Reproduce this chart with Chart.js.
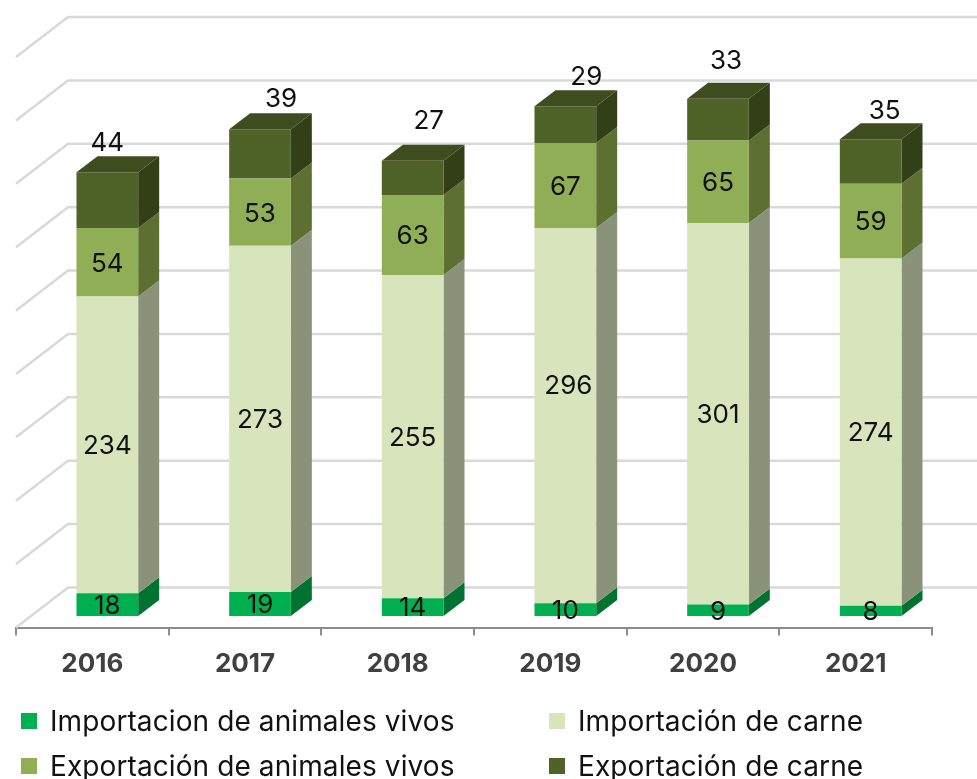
<!DOCTYPE html>
<html lang="es">
<head>
<meta charset="utf-8">
<title>Importación y exportación</title>
<script src="https://cdn.jsdelivr.net/npm/chart.js@4"></script>
<style>
    html, body { margin: 0; padding: 0; background: #fff; }
    #wrap { position: relative; width: 977px; height: 779px; overflow: hidden; }
    #legend div { position: absolute; font: 400 28px Inter, sans-serif; letter-spacing: 0.1px; color: #111; line-height: 30px; white-space: nowrap; }
    #legend i { position: absolute; left: -29px; top: 7px; width: 16px; height: 16px; }
</style>
</head>
<body>
<div id="wrap">
    <canvas id="myChart" width="977" height="779"></canvas>
    <div id="legend"></div>
</div>
<script>
// Datos
var years = ['2016', '2017', '2018', '2019', '2020', '2021'];
var seriesNames = ['Importacion de animales vivos', 'Importación de carne', 'Exportación de animales vivos', 'Exportación de carne'];
var impAnimales = [18, 19, 14, 10, 9, 8];
var impCarne = [234, 273, 255, 296, 301, 274];
var expAnimales = [54, 53, 63, 67, 65, 59];
var expCarne = [44, 39, 27, 29, 33, 35];

// Colores: frente, lado, tapa
var front = ['#00b050', '#d8e4bc', '#8fae55', '#4f6228'];
var side = ['#007232', '#8a927a', '#5d7032', '#333f17'];
var topFace = '#3f4c1f';

// Efecto 3D
var wallDX = 52, wallDY = 40;
var barDX = 15, barDY = 11.5;
var depthX = 21, depthY = 16;

// Las etiquetas de arriba van movidas a mano en el original
var topShiftX = [0, 21, 16, 21, 8, 14];
var topShiftY = [-31, -31, -41, -31, -39.5, -30];
var labelLift = 1.5;

function poly(ctx, pts, color) {
    ctx.fillStyle = color;
    ctx.beginPath();
    ctx.moveTo(pts[0][0], pts[0][1]);
    for (var i = 1; i < pts.length; i++) ctx.lineTo(pts[i][0], pts[i][1]);
    ctx.closePath();
    ctx.fill();
}

var fake3d = {
    id: 'fake3d',
    beforeDatasetsDraw: function (chart) {
        var ctx = chart.ctx;
        var y = chart.scales.y, area = chart.chartArea;

        // Pared del fondo y diagonales
        ctx.save();
        ctx.strokeStyle = '#d9d9d9';
        ctx.lineWidth = 2.5;
        y.ticks.forEach(function (t) {
            var py = y.getPixelForValue(t.value);
            ctx.beginPath();
            ctx.moveTo(area.left, py);
            ctx.lineTo(area.left + wallDX, py - wallDY);
            ctx.lineTo(chart.width, py - wallDY);
            ctx.stroke();
        });
        ctx.restore();

        // Todas las barras van corridas respecto al eje
        ctx.save();
        ctx.translate(barDX, -barDY);
        chart.data.datasets.forEach(function (ds, d) {
            chart.getDatasetMeta(d).data.forEach(function (bar) {
                var r = bar.x + bar.width / 2;
                poly(ctx, [[r, bar.y], [r + depthX, bar.y - depthY], [r + depthX, bar.base - depthY], [r, bar.base]], side[d]);
                if (d === chart.data.datasets.length - 1) {
                    var l = bar.x - bar.width / 2;
                    poly(ctx, [[l, bar.y], [l + depthX, bar.y - depthY], [r + depthX, bar.y - depthY], [r, bar.y]], topFace);
                }
            });
        });
    },
    afterDatasetsDraw: function (chart) {
        var ctx = chart.ctx;
        ctx.restore();

        // Etiquetas de valores
        ctx.save();
        ctx.font = '400 26px Inter, sans-serif';
        ctx.fillStyle = '#111';
        ctx.textAlign = 'center';
        ctx.textBaseline = 'middle';
        chart.data.datasets.forEach(function (ds, d) {
            chart.getDatasetMeta(d).data.forEach(function (bar, i) {
                var cx = bar.x + barDX, cy = (bar.y + bar.base) / 2 - barDY + labelLift;
                if (d === chart.data.datasets.length - 1) {
                    cx += topShiftX[i];
                    cy = bar.y - barDY + topShiftY[i] + labelLift;
                }
                // el 296 esta mas arriba en el original
                if (d === 1 && i === 3) {
                    cx += 3;
                    cy -= 31;
                }
                ctx.fillText(ds.data[i], cx, cy);
            });
        });
        ctx.restore();
    }
};

var seriesData = [impAnimales, impCarne, expAnimales, expCarne];

var myChart = new Chart(document.getElementById('myChart').getContext('2d'), {
    type: 'bar',
    data: {
        labels: years,
        datasets: seriesData.map(function (values, i) {
            return {
                label: seriesNames[i],
                data: values,
                backgroundColor: front[i],
                barPercentage: 0.404,
                categoryPercentage: 1
            };
        })
    },
    options: {
        responsive: false,
        animation: false,
        layout: { padding: { left: 16, right: 45, top: 57, bottom: 101.5 } },
        plugins: { legend: { display: false }, tooltip: { enabled: false } },
        scales: {
            x: {
                stacked: true,
                afterFit: function (scale) { scale.height = 50; },
                border: { color: '#8c8c8c', width: 2 },
                grid: { drawOnChartArea: false, color: '#8c8c8c', lineWidth: 2, tickLength: 8 },
                ticks: {
                    color: '#404040',
                    padding: 13,
                    maxRotation: 0,
                    font: { family: 'Inter, sans-serif', size: 26, weight: '700' }
                }
            },
            y: {
                stacked: true,
                display: false,
                min: 0,
                max: 450,
                ticks: { stepSize: 50 }
            }
        }
    },
    plugins: [fake3d]
});

// Leyenda en dos columnas
var legendX = [50, 578];
var legendY = [706, 751];
var legend = document.getElementById('legend');
seriesNames.forEach(function (name, i) {
    var el = document.createElement('div');
    el.style.left = legendX[i % 2] + 'px';
    el.style.top = legendY[Math.floor(i / 2)] + 'px';
    el.innerHTML = '<i style="background:' + front[i] + '"></i>' + name;
    legend.appendChild(el);
});
</script>
</body>
</html>
